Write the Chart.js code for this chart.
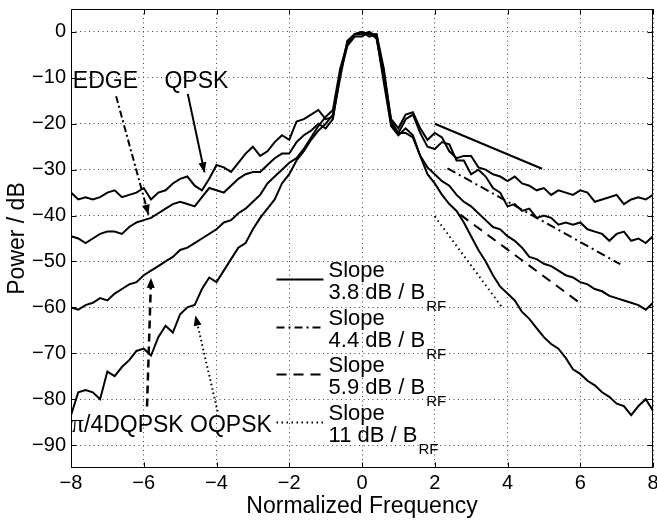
<!DOCTYPE html>
<html><head><meta charset="utf-8">
<script src="https://cdn.jsdelivr.net/npm/chart.js@4.4.1/dist/chart.umd.min.js"></script>
<style>html,body{margin:0;padding:0;background:#fff}#wrap{width:657px;height:521px}</style>
</head><body><div id="wrap"><canvas id="c" width="657" height="521"></canvas></div>
<script>
// ---------- data ----------
const freq = [-8,-7.8,-7.6,-7.4,-7.2,-7,-6.8,-6.6,-6.4,-6.2,
  -6,-5.8,-5.6,-5.4,-5.2,-5,-4.8,-4.6,-4.4,-4.2,
  -4,-3.8,-3.6,-3.4,-3.2,-3,-2.8,-2.6,-2.4,-2.2,
  -2,-1.8,-1.6,-1.4,-1.2,-1,-0.8,-0.6,-0.4,-0.2,
  0,0.2,0.4,0.6,0.8,1,1.2,1.4,1.6,1.8,
  2,2.2,2.4,2.6,2.8,3,3.2,3.4,3.6,3.8,
  4,4.2,4.4,4.6,4.8,5,5.2,5.4,5.6,5.8,
  6,6.2,6.4,6.6,6.8,7,7.2,7.4,7.6,7.8,8];
const qpsk = [-35,-36.5,-36,-36.5,-36,-35,-34.5,-36,-35.5,-35,
  -34,-36.5,-35,-34.5,-33,-32,-31.5,-33.5,-34.5,-32,
  -29,-29.5,-30.5,-28.5,-26.5,-25,-27,-26,-24,-22.5,
  -23.5,-19.5,-19,-18,-17,-19,-18.5,-10,-2,-0.5,
  0,-1,-0.5,-9,-19,-21,-18,-17.5,-21,-23.5,
  -22,-23,-26,-27.5,-27,-27,-29.5,-30,-31,-31.5,
  -32.5,-31.5,-33,-33.5,-34.5,-34,-35.5,-34.5,-35,-35.5,
  -34.5,-35,-37,-36.5,-36,-35.5,-37.5,-36.5,-36,-36.5,-35.5];
const edge = [-44.5,-45,-46,-45,-44,-43.5,-43.5,-44,-42.5,-41.5,
  -41,-40.5,-39.5,-38.5,-37.5,-37,-37.5,-38,-36,-34,
  -34.5,-35,-33.5,-32,-31,-30.5,-30.5,-29,-27.5,-26.5,
  -26.5,-24,-22.5,-21.5,-20,-21,-19,-9,-3,-1,
  -1,0,-1.5,-10,-20,-22,-19,-18,-22,-25,
  -25.5,-24,-24.5,-28,-28,-31,-30,-31.5,-34,-35,
  -38,-37.5,-39,-38.5,-40.5,-40,-40.5,-42,-41.5,-42,
  -41.5,-43,-43.5,-44,-45.5,-44,-43.5,-45.5,-45,-46,-44.5];
const dqpsk = [-60,-60.5,-59.5,-59,-58,-58.5,-57,-56,-55,-54.5,
  -53,-52,-51,-50,-49,-47.5,-47,-46,-45,-44,
  -43,-41.5,-41,-39.5,-38.5,-37,-35.5,-33,-31.5,-30,
  -28.5,-27.5,-25.5,-23,-20.5,-18.5,-17,-8,-2.5,-0.5,
  -0.5,0,-1,-11,-20.5,-22.5,-21,-22.5,-27,-29.5,
  -31,-32.5,-33.5,-35.5,-37,-38,-39.5,-41,-42.5,-43,
  -44.5,-45.5,-47,-49,-49.5,-50.5,-51,-52,-53,-53.5,
  -54.5,-55,-56,-56.5,-57.5,-58,-58.5,-59,-59.5,-60.5,-59];
const oqpsk = [-83.5,-78.5,-78,-78.5,-80,-74,-75,-73,-71.5,-69.5,
  -69,-70.5,-66.5,-64,-65.5,-61.5,-60,-59.5,-56,-53.5,
  -54.5,-52,-49.5,-47,-46,-43,-40.5,-38.5,-36.5,-33,
  -31,-28,-26,-23.5,-21.5,-20,-18,-9,-2,-0.5,
  0,-0.5,-0.5,-8,-19.5,-22,-22,-23,-27,-31,
  -33,-35.5,-37.5,-39,-41.5,-44.5,-47.5,-50,-53,-55.5,
  -57,-58.5,-61,-62.5,-64.5,-66.5,-68,-69,-71,-73.5,
  -74.5,-76,-77,-78.5,-79.5,-81,-81.5,-83.5,-81.5,-80,-82.5];
const xTicks = [-8,-6,-4,-2,0,2,4,6,8];
const yTicks = [0,-10,-20,-30,-40,-50,-60,-70,-80,-90];

// slope reference lines (start, end)
const slope38X = [2, 4.95],   slope38Y = [-20, -29.8];
const slope44X = [2.35, 7.1], slope44Y = [-29.7, -50.6];
const slope59X = [2.7, 6.05], slope59Y = [-39.8, -59.4];
const slope11X = [2.0, 3.87], slope11Y = [-40.2, -60.2];

// annotation arrows (tail, head)
const arrowEdgeX = [-6.76, -5.87],  arrowEdgeY = [-14.0, -39.8];
const arrowQpskX = [-4.79, -4.33],  arrowQpskY = [-13.5, -30.6];
const arrowDqpskX = [-5.91, -5.8],  arrowDqpskY = [-81.6, -53.6];
const arrowOqpskX = [-3.97, -4.58], arrowOqpskY = [-82.7, -61.8];

const slopeLabels = ['3.8 dB / B', '4.4 dB / B', '5.9 dB / B', '11 dB / B'];
// ---------- end data ----------

const FONT = '"Liberation Sans", Arial, Helvetica, sans-serif';
const pts = (xs, ys) => xs.map((v, i) => ({x: v, y: ys[i]}));
const curve = (arr) => ({data: pts(freq, arr), borderColor: '#000', borderWidth: 2, pointRadius: 0, tension: 0, fill: false});
const seg = (xs, ys, dash, w) => ({data: pts(xs, ys), borderColor: '#000', borderWidth: w || 2, borderDash: dash, pointRadius: 0, tension: 0, fill: false});

const arrows = [
  [arrowEdgeX, arrowEdgeY], [arrowQpskX, arrowQpskY],
  [arrowDqpskX, arrowDqpskY], [arrowOqpskX, arrowOqpskY]
];
const legendStyles = [[], [8, 4, 2, 4], [10, 7], [1.5, 3.5]];
const legendRows = [-53.8, -64.2, -74.6, -85.0];

const decor = {
  id: 'decor',
  afterDatasetsDraw(chart) {
    const {ctx, scales: {x, y}} = chart;
    ctx.save();
    ctx.fillStyle = '#000';
    arrows.forEach(([ax, ay]) => {
      const x0 = x.getPixelForValue(ax[0]), y0 = y.getPixelForValue(ay[0]);
      const x1 = x.getPixelForValue(ax[1]), y1 = y.getPixelForValue(ay[1]);
      const ang = Math.atan2(y1 - y0, x1 - x0);
      const L = 10, W = 4;
      ctx.beginPath();
      ctx.moveTo(x1, y1);
      ctx.lineTo(x1 - L * Math.cos(ang) + W * Math.sin(ang), y1 - L * Math.sin(ang) - W * Math.cos(ang));
      ctx.lineTo(x1 - L * Math.cos(ang) - W * Math.sin(ang), y1 - L * Math.sin(ang) + W * Math.cos(ang));
      ctx.closePath();
      ctx.fill();
    });
    ctx.textBaseline = 'alphabetic';
    ctx.textAlign = 'left';
    ctx.font = '23px ' + FONT;
    ctx.fillText('EDGE', x.getPixelForValue(-7.95), y.getPixelForValue(-12.15));
    ctx.fillText('QPSK', x.getPixelForValue(-5.43), y.getPixelForValue(-12.15));
    const bx = x.getPixelForValue(-7.99), by = y.getPixelForValue(-87.1);
    ctx.font = '25px "Liberation Serif", "Times New Roman", serif';
    ctx.fillText('\u03C0', bx, by);
    const pw = ctx.measureText('\u03C0').width;
    ctx.font = '23px ' + FONT;
    ctx.fillText('/4DQPSK OQPSK', bx + pw, by);
    const lx0 = x.getPixelForValue(-2.35), lx1 = x.getPixelForValue(-1.06);
    const tx = x.getPixelForValue(-0.92);
    legendRows.forEach((v, i) => {
      const py = Math.round(y.getPixelForValue(v)) + 0.5;
      ctx.strokeStyle = '#000';
      ctx.lineWidth = 2;
      ctx.setLineDash(legendStyles[i]);
      ctx.beginPath(); ctx.moveTo(lx0, py); ctx.lineTo(lx1, py); ctx.stroke();
      ctx.setLineDash([]);
      ctx.font = '22px ' + FONT;
      ctx.fillText('Slope', tx, py - 3);
      ctx.fillText(slopeLabels[i], tx, py + 19);
      const w = ctx.measureText(slopeLabels[i]).width;
      ctx.font = '15px ' + FONT;
      ctx.fillText('RF', tx + w + 1, py + 31);
    });
    ctx.restore();
  },
  afterDraw(chart) {
    const {ctx, chartArea: a, scales: {x, y}} = chart;
    ctx.save();
    ctx.strokeStyle = '#000';
    ctx.lineWidth = 1;
    ctx.setLineDash([]);
    const L = Math.round(a.left) + 0.5, R = Math.round(a.right) - 0.5;
    const T = Math.round(a.top) + 0.5, B = Math.round(a.bottom) - 0.5;
    ctx.strokeRect(L, T, R - L, B - T);
    ctx.beginPath();
    xTicks.forEach(v => {
      const px = Math.round(x.getPixelForValue(v)) + 0.5;
      ctx.moveTo(px, B); ctx.lineTo(px, B - 5);
      ctx.moveTo(px, T); ctx.lineTo(px, T + 5);
    });
    yTicks.forEach(v => {
      const py = Math.round(y.getPixelForValue(v)) + 0.5;
      ctx.moveTo(L, py); ctx.lineTo(L + 5, py);
      ctx.moveTo(R, py); ctx.lineTo(R - 5, py);
    });
    ctx.stroke();
    ctx.restore();
  }
};

const minus = v => String(v).replace('-', '\u2212');
const noPad = s => { s.paddingLeft = 0; s.paddingRight = 0; s.paddingTop = 0; s.paddingBottom = 0; };

new Chart(document.getElementById('c'), {
  type: 'line',
  data: {
    datasets: [
      curve(qpsk), curve(edge), curve(dqpsk), curve(oqpsk),
      seg(slope38X, slope38Y, [], 2),
      seg(slope44X, slope44Y, [9, 4, 2, 4], 2),
      seg(slope59X, slope59Y, [10, 7], 2),
      seg(slope11X, slope11Y, [1.5, 3.5], 2),
      seg(arrowEdgeX, arrowEdgeY, [7, 3, 2, 3], 2),
      seg(arrowQpskX, arrowQpskY, [], 2),
      seg(arrowDqpskX, arrowDqpskY, [8, 5], 2.5),
      seg(arrowOqpskX, arrowOqpskY, [1.5, 3], 2)
    ]
  },
  options: {
    responsive: false,
    animation: false,
    events: [],
    layout: {padding: {top: 9, right: 4, left: 0, bottom: 0}},
    plugins: {legend: {display: false}, tooltip: {enabled: false}},
    scales: {
      x: {
        type: 'linear', min: -8, max: 8,
        afterBuildTicks: s => { s.ticks = xTicks.map(v => ({value: v})); },
        afterFit: s => { s.height = 53; noPad(s); },
        ticks: {color: '#000', font: {family: FONT, size: 20}, padding: 3, maxRotation: 0, callback: minus},
        grid: {color: '#444', lineWidth: 1, drawTicks: false},
        border: {display: false, dash: [1, 3.5]},
        title: {display: true, text: 'Normalized Frequency', color: '#000', font: {family: FONT, size: 23}, padding: {top: 0, bottom: 1}}
      },
      y: {
        type: 'linear', min: -95, max: 5,
        afterBuildTicks: s => { s.ticks = yTicks.map(v => ({value: v})); },
        afterFit: s => { s.width = 71; noPad(s); },
        ticks: {color: '#000', font: {family: FONT, size: 20}, padding: 5, callback: minus},
        grid: {color: '#444', lineWidth: 1, drawTicks: false},
        border: {display: false, dash: [1, 3.5]},
        title: {display: true, text: 'Power / dB', color: '#000', font: {family: FONT, size: 23}, padding: {top: 4, bottom: 0}}
      }
    }
  },
  plugins: [decor]
});
</script></body></html>
